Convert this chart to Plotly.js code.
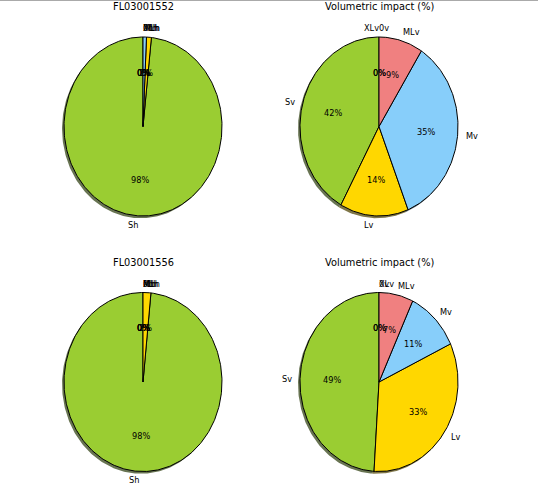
<!DOCTYPE html>
<html><head><meta charset="utf-8">
<script src="https://cdn.plot.ly/plotly-3.0.1.min.js"></script>
<style>html,body{margin:0;padding:0;background:#fff}</style>
</head><body><div id="chart" style="width:538px;height:502px"></div>
<script>
// ---- data ----
const titles = ['FL03001552', 'Volumetric impact (%)', 'FL03001556', 'Volumetric impact (%)'];
const labelsH = ['0h', 'Sh', 'Lh', 'Mh', 'MLh', 'XLh'];
const labelsV = ['0v', 'Sv', 'Lv', 'Mv', 'MLv', 'XLv'];
const values1552H = [0, 98.3, 1.0, 0.7, 0, 0];
const values1552V = [0, 42, 14, 35, 9, 0];
const values1556H = [0, 98.4, 1.6, 0, 0, 0];
const values1556V = [0, 49, 33, 11, 7, 0];

// ---- style ----
const sliceColors = [[255,255,255], [154,205,50], [255,215,0], [135,206,250], [240,128,128], [255,255,255]];
const tieRight = [[], ['XLv'], [], []];
const W = 538, H = 502;
const geom = [
  {cx: 143, cy: 126.5, rx: 79, ry: 89.5, xd: [0, 0.5], yd: [0.5, 1]},
  {cx: 379, cy: 126.5, rx: 79, ry: 89.5, xd: [0.5, 1], yd: [0.5, 1]},
  {cx: 143, cy: 382, rx: 79, ry: 89.5, xd: [0, 0.5], yd: [0, 0.5]},
  {cx: 379, cy: 382, rx: 79, ry: 89.5, xd: [0.5, 1], yd: [0, 0.5]}
];
const titleY = [7, 262.5];
const charts = [
  {labels: labelsH, values: values1552H},
  {labels: labelsV, values: values1552V},
  {labels: labelsH, values: values1556H},
  {labels: labelsV, values: values1556V}
];
const FONT = 'DejaVu Sans, Liberation Sans, sans-serif';
const shadowOff = 0.025;
const LBL = 8.2, TTL = 9.8;

function wedge(t1, t2, ox, oy) {
  const xs = [ox], ys = [oy];
  const n = Math.max(2, Math.ceil(Math.abs(t2 - t1)));
  for (let i = 0; i <= n; i++) {
    const a = (t1 + (t2 - t1) * i / n) * Math.PI / 180;
    xs.push(ox + Math.cos(a)); ys.push(oy + Math.sin(a));
  }
  xs.push(ox); ys.push(oy);
  return {xs, ys};
}

const shadowTraces = [], wedgeTraces = [], annotations = [];
const layout = {
  width: W, height: H, margin: {l: 0, r: 0, t: 0, b: 0},
  paper_bgcolor: '#fff', plot_bgcolor: 'rgba(0,0,0,0)',
  showlegend: false, annotations: annotations,
  shapes: [{type: 'line', xref: 'paper', yref: 'paper', x0: 0, x1: 1, y0: 1 - 0.5 / H, y1: 1 - 0.5 / H,
            line: {color: '#aaaaaa', width: 1}}]
};

charts.forEach((c, k) => {
  const g = geom[k];
  const sfx = k === 0 ? '' : String(k + 1);
  const xa = 'x' + sfx, ya = 'y' + sfx;
  const px0 = g.xd[0] * W, px1 = g.xd[1] * W;
  const pyTop = (1 - g.yd[1]) * H, pyBot = (1 - g.yd[0]) * H;
  layout['xaxis' + sfx] = {domain: g.xd, range: [(px0 - g.cx) / g.rx, (px1 - g.cx) / g.rx],
    visible: false, fixedrange: true, anchor: ya};
  layout['yaxis' + sfx] = {domain: g.yd, range: [-(pyBot - g.cy) / g.ry, (g.cy - pyTop) / g.ry],
    visible: false, fixedrange: true, anchor: xa};

  const sum = c.values.reduce((a, b) => a + b, 0);
  let theta = 90;
  c.values.forEach((v, i) => {
    const frac = v / sum;
    const t1 = theta, t2 = theta + frac * 360;
    theta = t2;
    const col = sliceColors[i];
    if (v > 0) {
      const s = wedge(t1, t2, -shadowOff, -shadowOff);
      shadowTraces.push({type: 'scatter', mode: 'lines', x: s.xs, y: s.ys, xaxis: xa, yaxis: ya,
        fill: 'toself', fillcolor: `rgba(${Math.round(col[0]*0.3)},${Math.round(col[1]*0.3)},${Math.round(col[2]*0.3)},0.72)`,
        line: {width: 0}, hoverinfo: 'skip'});
      const w = wedge(t1, t2, 0, 0);
      wedgeTraces.push({type: 'scatter', mode: 'lines', x: w.xs, y: w.ys, xaxis: xa, yaxis: ya,
        fill: 'toself', fillcolor: `rgb(${col[0]},${col[1]},${col[2]})`,
        line: {color: '#000', width: 1}, hoverinfo: 'skip'});
    }
    const tm = (t1 + t2) / 2 * Math.PI / 180;
    const lx = 1.1 * Math.cos(tm), ly = 1.1 * Math.sin(tm);
    let ha;
    if (lx > 1e-9) ha = 'left';
    else if (lx < -1e-9) ha = 'right';
    else ha = tieRight[k].includes(c.labels[i]) ? 'right' : 'left';
    annotations.push({xref: xa, yref: ya, x: lx, y: ly, text: c.labels[i], showarrow: false,
      xanchor: ha, yanchor: 'middle', borderpad: 0, xshift: ha === 'left' ? -1 : 1,
      font: {family: FONT, size: LBL, color: '#000'}});
    annotations.push({xref: xa, yref: ya, x: 0.6 * Math.cos(tm), y: 0.6 * Math.sin(tm),
      text: Math.round(frac * 100) + '%', showarrow: false, xanchor: 'center', yanchor: 'middle',
      borderpad: 0, font: {family: FONT, size: LBL, color: '#000'}});
  });
  annotations.push({xref: 'paper', yref: 'paper', x: g.cx / W, y: 1 - titleY[k < 2 ? 0 : 1] / H,
    text: titles[k], showarrow: false, xanchor: 'center', yanchor: 'middle', borderpad: 0,
    font: {family: FONT, size: TTL, color: '#000'}});
});

Plotly.newPlot('chart', shadowTraces.concat(wedgeTraces), layout, {displayModeBar: false, staticPlot: true});
</script></body></html>
